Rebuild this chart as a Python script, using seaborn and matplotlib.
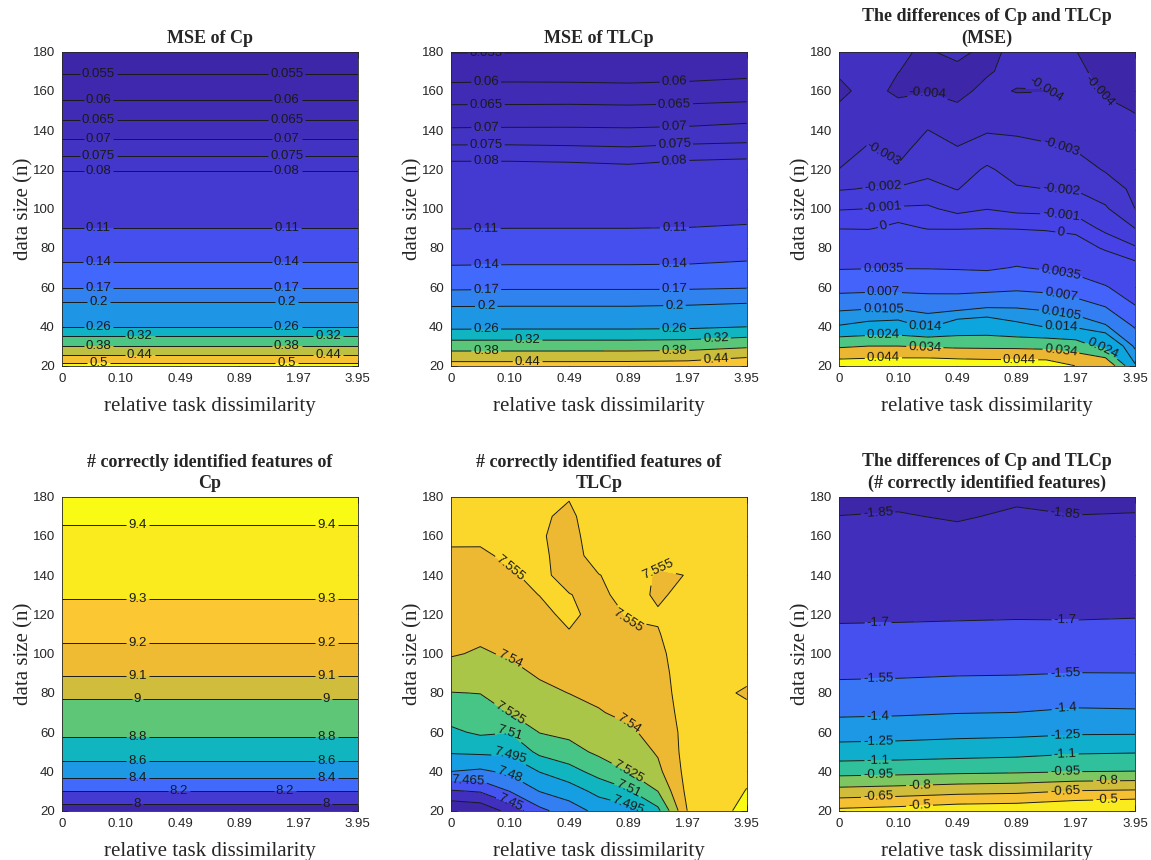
import numpy as np
import matplotlib
matplotlib.use('Agg')
import matplotlib.pyplot as plt
import seaborn as sns

# ---- grids -------------------------------------------------------------
dissim_ticks = ['0', '0.10', '0.49', '0.89', '1.97', '3.95']
n_sizes = np.arange(20, 181, 10)               # data size n (rows)
x_half = np.arange(0, 5.01, 0.5)               # 11 dissimilarity positions
x_whole = np.arange(0, 6)                      # 6 dissimilarity positions

# ---- data (rows: n = 20, 30, ..., 180) ----------------------------------
# MSE of Cp does not depend on the dissimilarity
mse_cp_by_n = [0.515, 0.383, 0.257, 0.2101, 0.1679, 0.146, 0.126, 0.110, 0.098,
               0.088, 0.0795, 0.073, 0.0675, 0.0625, 0.058, 0.0545, 0.051]

mse_tlcp = [  # columns x = 0..5
    [0.463, 0.463, 0.463, 0.464, 0.468, 0.490],
    [0.352, 0.352, 0.352, 0.352, 0.355, 0.370],
    [0.245, 0.246, 0.246, 0.246, 0.248, 0.258],
    [0.2005, 0.2010, 0.2010, 0.2010, 0.2030, 0.207],
    [0.165, 0.166, 0.166, 0.166, 0.166, 0.168],
    [0.142, 0.1425, 0.1425, 0.1425, 0.143, 0.146],
    [0.125, 0.1255, 0.1255, 0.1255, 0.126, 0.128],
    [0.1095, 0.110, 0.110, 0.110, 0.1105, 0.1125],
    [0.098, 0.098, 0.098, 0.098, 0.099, 0.100],
    [0.089, 0.089, 0.089, 0.088, 0.0895, 0.091],
    [0.0825, 0.0825, 0.0822, 0.0815, 0.0828, 0.0835],
    [0.0765, 0.0765, 0.0762, 0.0758, 0.0767, 0.077],
    [0.0705, 0.0706, 0.0706, 0.0705, 0.0708, 0.0715],
    [0.0665, 0.0665, 0.0666, 0.0664, 0.0667, 0.0672],
    [0.0615, 0.0616, 0.0616, 0.0614, 0.0617, 0.0623],
    [0.058, 0.0581, 0.0580, 0.0579, 0.0582, 0.0587],
    [0.0548, 0.0548, 0.0549, 0.0551, 0.0553, 0.0555],
]

mse_diff = [  # columns x = 0, 0.5, ..., 5
    [0.0498, 0.0501, 0.0507, 0.0513, 0.0504, 0.0497, 0.0495, 0.0495, 0.0438, 0.0433, 0.0145],
    [0.0326, 0.0340, 0.0340, 0.0329, 0.0321, 0.0319, 0.0317, 0.0310, 0.0292, 0.0204, 0.00976],
    [0.0143, 0.0155, 0.0161, 0.01344, 0.0169, 0.0175, 0.0152, 0.0138, 0.0129, 0.0109, 0.0067],
    [0.0095, 0.00983, 0.00968, 0.0090, 0.00903, 0.0102, 0.0102, 0.00968, 0.00865, 0.0070, 0.00365],
    [0.00586, 0.00598, 0.00602, 0.0060, 0.00596, 0.00586, 0.00628, 0.00593, 0.0050, 0.0037, 0.00202],
    [0.00325, 0.00333, 0.00335, 0.00333, 0.00322, 0.00307, 0.00363, 0.00316, 0.00259, 0.00161, 0.00047],
    [0.00158, 0.00158, 0.00186, 0.00158, 0.00157, 0.00152, 0.00175, 0.00145, 0.00094, -0.00024, -0.00088],
    [-0.00005, -0.00009, 0.00037, -0.00007, -0.00008, -0.00002, -0.00008, -0.0002, -0.00044, -0.00123, -0.002],
    [-0.00107, -0.001, -0.00088, -0.00084, -0.0013, -0.00103, -0.00126, -0.00129, -0.00134, -0.00187, -0.003],
    [-0.00206, -0.00195, -0.00186, -0.00171, -0.00203, -0.00145, -0.00191, -0.002, -0.00206, -0.00253, -0.0032],
    [-0.00299, -0.00244, -0.00289, -0.00225, -0.00247, -0.00187, -0.00236, -0.00243, -0.00257, -0.00308, -0.00343],
    [-0.00329, -0.00291, -0.00324, -0.00262, -0.00292, -0.00249, -0.00277, -0.00287, -0.00303, -0.00332, -0.00363],
    [-0.00359, -0.0032, -0.00351, -0.00299, -0.00337, -0.00309, -0.0031, -0.0032, -0.00322, -0.00358, -0.00382],
    [-0.00389, -0.0035, -0.00378, -0.00355, -0.00382, -0.00343, -0.0035, -0.0035, -0.00342, -0.00383, -0.00403],
    [-0.00415, -0.00379, -0.00412, -0.00405, -0.00425, -0.00376, -0.00405, -0.00403, -0.0037, -0.00408, -0.0043],
    [-0.00392, -0.0037, -0.00399, -0.0042, -0.0043, -0.0041, -0.0037, -0.0037, -0.0038, -0.0043, -0.0045],
    [-0.0039, -0.0036, -0.0039, -0.0041, -0.0037, -0.0043, -0.0037, -0.0038, -0.00398, -0.0045, -0.0046],
]

# correctly identified features of Cp, independent of the dissimilarity
feat_cp_by_n = [7.895, 8.203, 8.506, 8.687, 8.838, 8.94, 9.03, 9.111, 9.175,
                9.22, 9.26, 9.31, 9.34, 9.37, 9.392, 9.406, 9.44]

feat_tlcp = [  # columns x = 0, 0.5, ..., 5
    [7.421, 7.4241, 7.440, 7.4613, 7.4725, 7.4845, 7.4894, 7.5063, 7.5555, 7.5645, 7.575],
    [7.4486, 7.4514, 7.4655, 7.4805, 7.4875, 7.4995, 7.5081, 7.5252, 7.559, 7.563, 7.5705],
    [7.480, 7.4775, 7.4832, 7.4955, 7.5044, 7.5156, 7.5252, 7.5365, 7.560, 7.562, 7.567],
    [7.4965, 7.4978, 7.498, 7.5135, 7.5195, 7.5279, 7.5317, 7.5415, 7.5605, 7.562, 7.565],
    [7.5073, 7.5123, 7.5105, 7.5255, 7.5285, 7.5337, 7.5383, 7.5436, 7.5605, 7.562, 7.563],
    [7.5163, 7.5188, 7.5255, 7.5309, 7.5342, 7.5394, 7.5421, 7.5458, 7.562, 7.561, 7.559],
    [7.5246, 7.5253, 7.5308, 7.5368, 7.5402, 7.5419, 7.5448, 7.5479, 7.563, 7.5585, 7.553],
    [7.5345, 7.532, 7.5365, 7.5415, 7.5455, 7.544, 7.5476, 7.5501, 7.5625, 7.561, 7.559],
    [7.5411, 7.5387, 7.5413, 7.5448, 7.551, 7.5461, 7.5503, 7.5522, 7.562, 7.562, 7.562],
    [7.5437, 7.5423, 7.5445, 7.5481, 7.554, 7.5482, 7.5531, 7.5544, 7.561, 7.562, 7.562],
    [7.5462, 7.5451, 7.5477, 7.5515, 7.558, 7.5503, 7.5558, 7.556, 7.5595, 7.561, 7.562],
    [7.5488, 7.548, 7.5509, 7.5552, 7.5553, 7.5525, 7.559, 7.5535, 7.558, 7.561, 7.561],
    [7.5513, 7.5509, 7.5541, 7.557, 7.552, 7.5546, 7.560, 7.5538, 7.5552, 7.561, 7.561],
    [7.5539, 7.5537, 7.5565, 7.558, 7.549, 7.561, 7.561, 7.558, 7.5575, 7.561, 7.561],
    [7.5564, 7.5566, 7.558, 7.5565, 7.550, 7.563, 7.561, 7.560, 7.560, 7.561, 7.561],
    [7.558, 7.558, 7.559, 7.5565, 7.553, 7.561, 7.561, 7.560, 7.561, 7.561, 7.561],
    [7.559, 7.559, 7.560, 7.558, 7.5556, 7.560, 7.560, 7.560, 7.561, 7.561, 7.561],
]

feat_diff = [  # columns x = 0..5
    [-0.466, -0.440, -0.400, -0.388, -0.344, -0.312],
    [-0.749, -0.728, -0.699, -0.685, -0.644, -0.631],
    [-1.008, -0.997, -0.982, -0.971, -0.953, -0.947],
    [-1.182, -1.174, -1.161, -1.148, -1.118, -1.110],
    [-1.318, -1.310, -1.294, -1.286, -1.269, -1.267],
    [-1.425, -1.418, -1.405, -1.399, -1.379, -1.384],
    [-1.503, -1.497, -1.485, -1.479, -1.466, -1.469],
    [-1.572, -1.568, -1.560, -1.557, -1.548, -1.549],
    [-1.626, -1.623, -1.616, -1.612, -1.608, -1.606],
    [-1.680, -1.678, -1.671, -1.668, -1.667, -1.662],
    [-1.717, -1.715, -1.714, -1.711, -1.713, -1.709],
    [-1.743, -1.741, -1.742, -1.736, -1.740, -1.736],
    [-1.770, -1.767, -1.771, -1.762, -1.767, -1.763],
    [-1.796, -1.792, -1.800, -1.787, -1.794, -1.790],
    [-1.822, -1.818, -1.829, -1.812, -1.821, -1.817],
    [-1.849, -1.844, -1.858, -1.838, -1.848, -1.845],
    [-1.875, -1.870, -1.887, -1.863, -1.876, -1.872],
]

lv_mse_cp = [0.055, 0.06, 0.065, 0.07, 0.075, 0.08, 0.11, 0.14, 0.17, 0.2, 0.26, 0.32, 0.38, 0.44, 0.5]
lv_mse_tlcp = [0.055, 0.06, 0.065, 0.07, 0.075, 0.08, 0.11, 0.14, 0.17, 0.2, 0.26, 0.32, 0.38, 0.44]
lv_mse_diff = [-0.004, -0.003, -0.002, -0.001, 0, 0.0035, 0.007, 0.0105, 0.014, 0.024, 0.034, 0.044]
lv_feat_cp = [8, 8.2, 8.4, 8.6, 8.8, 9, 9.1, 9.2, 9.3, 9.4]
lv_feat_tlcp = [7.435, 7.45, 7.465, 7.48, 7.495, 7.51, 7.525, 7.54, 7.555, 7.57]
lv_feat_diff = [-1.85, -1.7, -1.55, -1.4, -1.25, -1.1, -0.95, -0.8, -0.65, -0.5]

# ---- style ---------------------------------------------------------------
sns.set_theme(style='ticks')
plt.rcParams['font.family'] = ['Liberation Sans', 'DejaVu Sans']
plt.rcParams['axes.unicode_minus'] = False
SERIF = 'Liberation Serif'
INK = '#262626'

# parula-like map sampled at 0, 0.1, ..., 1
PARULA = ['#3e26a8', '#4743e6', '#4267fd', '#298ee9', '#0ca5dd', '#12b9ba',
          '#4cc682', '#a6c74a', '#ebb632', '#fbc833', '#f9fb15']
parula = sns.blend_palette(PARULA, n_colors=256, as_cmap=True)

W, H = 1151, 860
fig = plt.figure(figsize=(W / 100, H / 100), dpi=100)
col_left = [61.7, 450.7, 839.0]
row_top = [51.7, 496.7]
ax_w, ax_h = 296.0, 314.0


def point_at(seg, xt):
    for i in range(len(seg) - 1):
        a, b = seg[i], seg[i + 1]
        if a[0] != b[0] and (a[0] - xt) * (b[0] - xt) <= 0:
            t = (xt - a[0]) / (b[0] - a[0])
            return a + t * (b - a)
    return None


def label_spots(ax, cs, xs, min_px=70):
    spots, placed = [], []
    to_px = ax.transData.transform

    def clear(p):
        q = to_px(p)
        return all(abs(q[0] - o[0]) > 36 or abs(q[1] - o[1]) > 13 for o in placed)

    for segs in cs.allsegs:
        for seg in segs:
            if len(seg) < 2:
                continue
            pix = to_px(seg)
            if np.hypot(*np.diff(pix, axis=0).T).sum() < min_px:
                continue
            cands = [(xt, point_at(seg, xt)) for xt in xs]
            cands = [(xt, p) for xt, p in cands if p is not None]
            if not cands:
                p = seg[len(seg) // 2]
                spots.append(tuple(p))
                placed.append(to_px(p))
                continue
            for xt, p in cands:
                choice = p
                if not clear(p):
                    for dx in (0.7, -0.7, 1.4, -1.4, 2.1):
                        if not 0.3 <= xt + dx <= 4.7:
                            continue
                        q = point_at(seg, xt + dx)
                        if q is not None and clear(q):
                            choice = q
                            break
                spots.append(tuple(choice))
                placed.append(to_px(choice))
    return spots


panels = [
    ('MSE of Cp', x_half, np.tile(np.array(mse_cp_by_n)[:, None], (1, len(x_half))),
     lv_mse_cp, (0.05, 0.5), (0.62, 3.8)),
    ('MSE of TLCp', x_whole, np.array(mse_tlcp), lv_mse_tlcp, (0.05, 0.49), (0.6, 3.78)),
    ('The differences of Cp and TLCp\n(MSE)', x_half, np.array(mse_diff),
     lv_mse_diff, (-0.006, 0.044), (0.75, 3.75)),
    ('# correctly identified features of\nCp', x_half,
     np.tile(np.array(feat_cp_by_n)[:, None], (1, len(x_half))),
     lv_feat_cp, (7.9, 9.35), (1.28, 4.47)),
    ('# correctly identified features of\nTLCp', x_half, np.array(feat_tlcp),
     lv_feat_tlcp, (7.43, 7.565), (1.0, 3.0)),
    ('The differences of Cp and TLCp\n(# correctly identified features)', x_whole,
     np.array(feat_diff), lv_feat_diff, (-1.9, -0.45), (0.66, 3.82)),
]

for k, (title, xs, Z, levels, (c0, c1), lab_x) in enumerate(panels):
    r, c = divmod(k, 3)
    ax = fig.add_axes([col_left[c] / W, 1 - (row_top[r] + ax_h) / H, ax_w / W, ax_h / H])
    X, Y = np.meshgrid(xs, n_sizes)
    lo = min(Z.min(), c0) - 1e-9
    hi = max(Z.max(), levels[-1]) + 1e-9
    fill_levels = [lo] + list(levels) + [hi]
    band_colors = [parula(float(np.clip((b - c0) / (c1 - c0), 0, 1)))
                   for b in [c0] + list(levels)]
    ax.contourf(X, Y, Z, levels=fill_levels, colors=band_colors)
    ax.set_xlim(0, 5)
    ax.set_ylim(20, 180)
    cs = ax.contour(X, Y, Z, levels=levels, colors='k', linewidths=0.7,
                    negative_linestyles='solid')
    ax.clabel(cs, fmt='%g', inline=True, inline_spacing=2, fontsize=9.5,
              manual=label_spots(ax, cs, lab_x))

    ax.set_xticks(range(6))
    ax.set_xticklabels(dissim_ticks)
    ax.set_yticks(range(20, 181, 20))
    ax.tick_params(direction='in', top=True, right=True, length=4, width=0.6,
                   labelsize=9.5, colors=INK, pad=5)
    for s in ax.spines.values():
        s.set_linewidth(0.6)
        s.set_color(INK)
    ax.set_xlabel('relative task dissimilarity', fontfamily=SERIF, fontsize=15,
                  labelpad=9, color=INK)
    ax.set_ylabel('data size (n)', fontfamily=SERIF, fontsize=15, labelpad=-0.5, color=INK)
    ax.set_title(title, fontfamily=SERIF, fontweight='bold', fontsize=13, pad=6,
                 linespacing=1.35)

fig.savefig('out.png', dpi=100)
